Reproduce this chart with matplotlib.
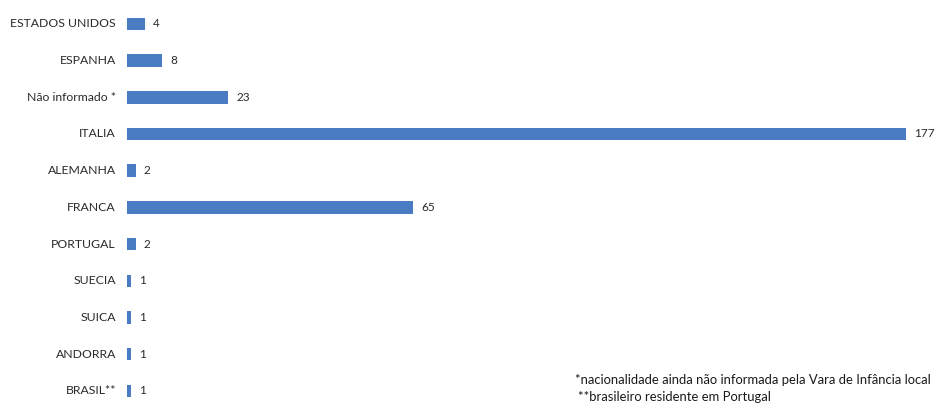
import matplotlib.pyplot as plt

# Countries, top to bottom as shown
paises = ['ESTADOS UNIDOS', 'ESPANHA', 'Não informado *', 'ITALIA', 'ALEMANHA',
          'FRANCA', 'PORTUGAL', 'SUECIA', 'SUICA', 'ANDORRA', 'BRASIL**']
valores = [4, 8, 23, 177, 2, 65, 2, 1, 1, 1, 1]
notas = ['*nacionalidade ainda não informada pela Vara de Infância local',
         '**brasileiro residente em Portugal']

plt.rcParams['font.family'] = ['Lato', 'DejaVu Sans']

fig = plt.figure(figsize=(9.4, 4.03), dpi=100)
ax = fig.add_axes([127 / 940, 0, 813 / 940, 1])

pos = list(range(len(paises)))
ax.barh(pos, valores, height=0.34, color='#4a7cc4')
ax.set_ylim(10.33, -0.65)
ax.set_xlim(0, 184.7)

for i in pos:
    ax.text(valores[i] + 1.8, i, str(valores[i]), va='center', ha='left',
            fontsize=8.5, color='#2a2a2a')
    ax.text(-2.5, i, paises[i], va='center', ha='right', fontsize=8.8,
            color='#2a2a2a')

ax.set_xticks([])
ax.set_yticks([])
for s in ax.spines.values():
    s.set_visible(False)

fig.text(575 / 940, 1 - 380 / 403, notas[0], fontsize=9.4, color='#1a1a1a',
         va='center', ha='left')
fig.text(578 / 940, 1 - 397 / 403, notas[1], fontsize=9.4, color='#1a1a1a',
         va='center', ha='left')

fig.savefig('out.png', dpi=100)
